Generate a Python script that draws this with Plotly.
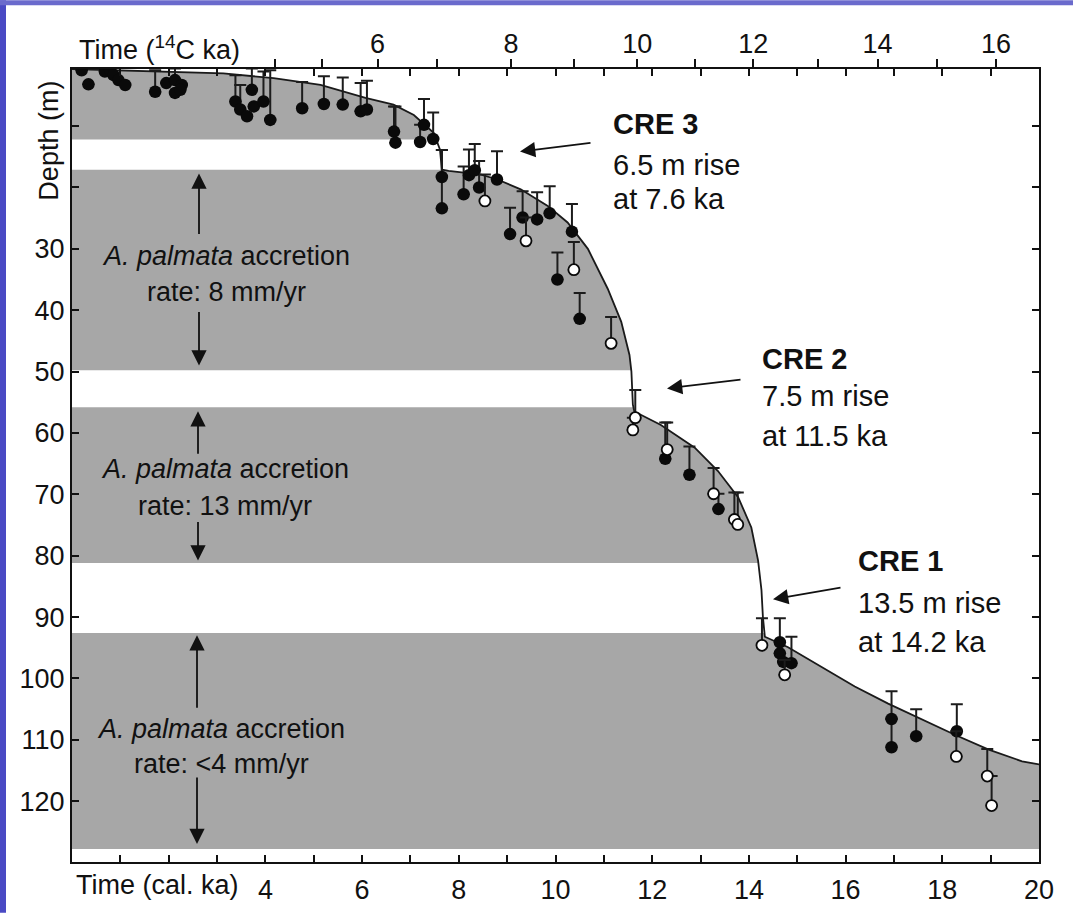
import subprocess
import plotly.graph_objects as go

# ---------------- data ----------------
# sea-level curve (calendar ka vs depth m)
curve_age = [0.0, 2.07, 3.13, 4.17, 5.14, 6.07, 6.65, 7.07, 7.48, 7.61, 7.65, 7.79, 8.46, 8.80,
             9.28, 9.84, 10.25, 10.67, 11.08, 11.36, 11.53, 11.57, 11.60, 11.63, 12.18, 12.88,
             13.36, 13.78, 14.05, 14.19, 14.26, 14.29, 14.33, 14.81, 15.51, 16.19, 16.88, 17.57,
             18.27, 18.96, 19.65, 20.0]
curve_depth = [0.7, 1.1, 1.4, 2.2, 3.3, 5.4, 6.5, 8.2, 11.1, 13.8, 17.1, 17.3, 17.9, 18.7,
               20.3, 23.0, 25.7, 30.0, 36.5, 41.9, 47.3, 50.0, 55.4, 56.5, 58.7, 62.4,
               66.2, 70.5, 75.4, 80.8, 85.6, 90.0, 93.2, 94.9, 98.1, 101.3, 104.1, 106.7,
               109.2, 111.6, 113.5, 114.0]

# filled symbols: age, depth, top of error bar
filled_age = [0.20, 0.34, 0.68, 0.79, 0.86, 0.96, 1.10, 1.72, 1.95, 2.13, 2.27, 2.13, 2.24,
              3.38, 3.48, 3.62, 3.72, 3.76, 3.96, 4.10, 4.76, 5.21, 5.60, 5.97, 6.10,
              6.66, 6.69, 7.20, 7.28, 7.47, 7.65, 7.65, 8.10, 8.21, 8.33, 8.42, 8.79,
              9.06, 9.32, 9.62, 9.88, 10.34, 10.04, 10.50, 12.27, 12.77, 13.37,
              14.64, 14.64, 14.71, 14.88, 16.95, 16.95, 17.46, 18.30]
filled_depth = [0.9, 3.2, 1.1, 0.9, 1.7, 2.5, 3.3, 4.4, 3.0, 2.5, 3.3, 4.6, 4.1,
                6.0, 7.3, 8.4, 4.1, 6.8, 6.0, 9.0, 7.1, 6.4, 6.5, 7.6, 7.3,
                10.9, 12.7, 12.6, 9.8, 12.1, 18.3, 23.4, 21.1, 18.0, 17.2, 20.0, 18.7,
                27.6, 24.9, 25.2, 24.2, 27.2, 35.0, 41.4, 64.2, 66.8, 72.4,
                94.1, 95.9, 97.3, 97.5, 106.6, 111.2, 109.4, 108.6]
filled_bar_top = [0.9, 3.2, 1.1, 0.9, 1.7, 2.5, 3.3, 0.9, 3.0, 0.6, 3.3, 4.6, 4.1,
                  1.7, 3.3, 8.4, 0.6, 6.8, 1.1, 0.9, 2.8, 1.9, 2.1, 3.0, 2.6,
                  6.8, 6.8, 9.8, 5.6, 7.8, 13.9, 13.9, 16.6, 13.8, 12.9, 15.7, 14.1,
                  23.3, 20.6, 20.8, 19.8, 22.7, 30.6, 37.2, 58.3, 62.2, 69.9,
                  90.2, 95.9, 97.3, 93.2, 102.1, 106.6, 105.0, 104.2]

# open symbols
open_age = [8.54, 9.39, 10.38, 11.15, 11.65, 11.60, 12.31, 13.27, 13.70, 13.77, 14.27, 14.74,
            18.29, 18.93, 19.02]
open_depth = [22.2, 28.7, 33.4, 45.4, 57.5, 59.5, 62.7, 69.9, 74.1, 74.9, 94.6, 99.4,
              112.7, 115.9, 120.7]
open_bar_top = [17.9, 24.9, 28.9, 41.1, 53.0, 57.5, 58.3, 65.7, 69.7, 69.7, 90.2, 97.0,
                108.6, 111.5, 115.9]

# white gaps (depth ranges) cutting the grey accretion zone
gap_top = [12.2, 49.8, 81.2]
gap_bottom = [17.1, 55.8, 92.6]
zone_bottom = 127.8

# axes
cal_label_vals = [4, 6, 8, 10, 12, 14, 16, 18, 20]
cal_label_text = ["4", "6", "8", "10", "12", "14", "16", "18", "20"]
cal_minor_vals = [1, 2, 3, 5, 7, 9, 11, 13, 15, 17, 19]
depth_label_vals = [30, 40, 50, 60, 70, 80, 90, 100, 110, 120]
depth_label_text = ["30", "40", "50", "60", "70", "80", "90", "100", "110", "120"]
depth_minor_vals = [10, 20]
c14_label_pos = [6.32, 9.08, 11.69, 14.09, 16.66, 19.11]      # 14C ka 6, 8, ... 16 on cal scale
c14_label_text = ["6", "8", "10", "12", "14", "16"]
c14_minor_pos = [4.19, 5.18, 7.54, 10.38, 12.89, 15.42, 17.89]  # 14C ka 4, 5, 7, 9, 11, 13, 15

# ---------------- fonts ----------------
def has_font(name):
    try:
        out = subprocess.run(["fc-list"], capture_output=True, text=True, timeout=10).stdout
        return name in out
    except Exception:
        return False

if has_font("Liberation Sans Narrow"):
    LAB = dict(family="Liberation Sans Narrow", size=32, color="#111")
else:
    LAB = dict(family="Liberation Sans", size=27, color="#111")
CRE = dict(family="Liberation Sans", size=29, color="#111")

W, H = 1073, 917
L, R, T, B = 72, 1039, 69, 866


def px(xp):
    return (xp - L) / (R - L)


def py(yp):
    return (B - yp) / (B - T)


GREY = "#a7a7a7"
INK = "#111"

fig = go.Figure()

# grey zone below curve
fig.add_trace(go.Scatter(
    x=curve_age + [curve_age[-1], curve_age[0]],
    y=curve_depth + [zone_bottom, zone_bottom],
    fill="toself", fillcolor=GREY, mode="lines", line=dict(width=0),
    hoverinfo="skip", showlegend=False))

# white gaps
for g0, g1 in zip(gap_top, gap_bottom):
    fig.add_trace(go.Scatter(
        x=[0, 20, 20, 0], y=[g0, g0, g1, g1], fill="toself", fillcolor="white",
        mode="lines", line=dict(width=0), hoverinfo="skip", showlegend=False))

# curve
fig.add_trace(go.Scatter(x=curve_age, y=curve_depth, mode="lines",
                         line=dict(color="#1a1a1a", width=1.8),
                         hoverinfo="skip", showlegend=False))

# dummy for top axis
fig.add_trace(go.Scatter(x=[0, 20], y=[None, None], xaxis="x2", mode="markers",
                         showlegend=False, hoverinfo="skip"))

# filled points
fig.add_trace(go.Scatter(
    x=filled_age, y=filled_depth, mode="markers",
    marker=dict(symbol="circle", size=12.5, color="#0a0a0a", line=dict(color="#0a0a0a", width=0)),
    error_y=dict(type="data", symmetric=False,
                 array=[0] * len(filled_depth),
                 arrayminus=[d - t for d, t in zip(filled_depth, filled_bar_top)],
                 color="#1c1c1c", thickness=2, width=6),
    showlegend=False))

# open points
fig.add_trace(go.Scatter(
    x=open_age, y=open_depth, mode="markers",
    marker=dict(symbol="circle", size=11, color="white", line=dict(color="#0a0a0a", width=1.8)),
    error_y=dict(type="data", symmetric=False,
                 array=[0] * len(open_depth),
                 arrayminus=[d - t for d, t in zip(open_depth, open_bar_top)],
                 color="#1c1c1c", thickness=2, width=6),
    showlegend=False))

ann = []


def text(xp, yp, s, font, xanchor="left", angle=0):
    ann.append(dict(x=px(xp), y=py(yp), xref="paper", yref="paper", text=s, showarrow=False,
                    xanchor=xanchor, yanchor="middle", font=font, textangle=angle))


def arrow(hx, hy, tx, ty):
    ann.append(dict(x=px(hx), y=py(hy), xref="paper", yref="paper", text="", showarrow=True,
                    ax=tx - hx, ay=ty - hy, arrowhead=2, arrowwidth=1.8, arrowsize=1.7,
                    arrowcolor=INK))


# axis titles
text(49, 141, "Depth (m)", LAB, xanchor="center", angle=-90)
text(77, 48, "Time (<sup>14</sup>C ka)", LAB)
text(74, 889, "Time (cal. ka)", LAB)

# accretion labels
for (cx, y1, y2, rate) in [(226, 257, 293, "rate: 8 mm/yr"),
                           (225, 471, 508, "rate: 13 mm/yr"),
                           (221, 732, 768, "rate: &lt;4 mm/yr")]:
    text(cx, y1, "<i>A. palmata</i> accretion", LAB, xanchor="center")
    text(cx, y2, rate, LAB, xanchor="center")

arrow(199, 174, 199, 236)
arrow(199, 367, 199, 312)
arrow(198, 413, 198, 457)
arrow(198, 563, 198, 523)
arrow(197, 638, 197, 712)
arrow(197, 848, 197, 780)

# CRE labels
for (x0, ys, lines) in [(611, (124, 165, 200), ("CRE 3", "6.5 m rise", "at 7.6 ka")),
                        (760, (360, 398, 438), ("CRE 2", "7.5 m rise", "at 11.5 ka")),
                        (856, (563, 606, 645), ("CRE 1", "13.5 m rise", "at 14.2 ka"))]:
    text(x0, ys[0], "<b>" + lines[0] + "</b>", CRE)
    text(x0, ys[1], lines[1], CRE)
    text(x0, ys[2], lines[2], CRE)

arrow(520, 152, 592, 143)
arrow(667, 390, 742, 381)
arrow(773, 602, 842, 590)

# slide background strips
shapes = [
    dict(type="rect", xref="paper", yref="paper", x0=px(0), x1=px(6), y0=py(H), y1=py(0),
         fillcolor="#4a4ac4", line=dict(width=0), layer="above"),
    dict(type="rect", xref="paper", yref="paper", x0=px(0), x1=px(W), y0=py(5), y1=py(0),
         fillcolor="#6a6acc", line=dict(width=0), layer="above"),
]

TICK = dict(ticklen=7, tickwidth=1.5, tickcolor=INK)

fig.update_layout(
    width=W, height=H,
    margin=dict(l=L, r=W - R, t=T, b=H - B, pad=0),
    paper_bgcolor="white", plot_bgcolor="white",
    showlegend=False,
    annotations=ann, shapes=shapes,
    xaxis=dict(range=[0, 20], tickmode="array", tickvals=cal_label_vals, ticktext=cal_label_text,
               ticks="inside", **TICK,
               minor=dict(tickmode="array", tickvals=cal_minor_vals, ticks="inside", **TICK),
               showline=True, linecolor=INK, linewidth=2.2, mirror="ticks",
               showgrid=False, zeroline=False, tickfont=LAB, ticklabelstandoff=2),
    xaxis2=dict(range=[0, 20], overlaying="x", side="top", tickmode="array",
                tickvals=c14_label_pos, ticktext=c14_label_text,
                ticks="outside", ticklen=9, tickwidth=1.5, tickcolor=INK,
                minor=dict(tickmode="array", tickvals=c14_minor_pos, ticks="outside",
                           ticklen=9, tickwidth=1.5, tickcolor=INK),
                showline=False, showgrid=False, zeroline=False, tickfont=LAB,
                ticklabelstandoff=-5),
    yaxis=dict(range=[129.9, 0.7], tickmode="array", tickvals=depth_label_vals,
               ticktext=depth_label_text, ticks="inside", **TICK,
               minor=dict(tickmode="array", tickvals=depth_minor_vals, ticks="inside", **TICK),
               showline=True, linecolor=INK, linewidth=2.2, mirror="ticks",
               showgrid=False, zeroline=False, tickfont=LAB, ticklabelstandoff=0),
)

fig.write_html("out.html", config={"displayModeBar": False},
               post_script="document.body.style.margin='0';")
